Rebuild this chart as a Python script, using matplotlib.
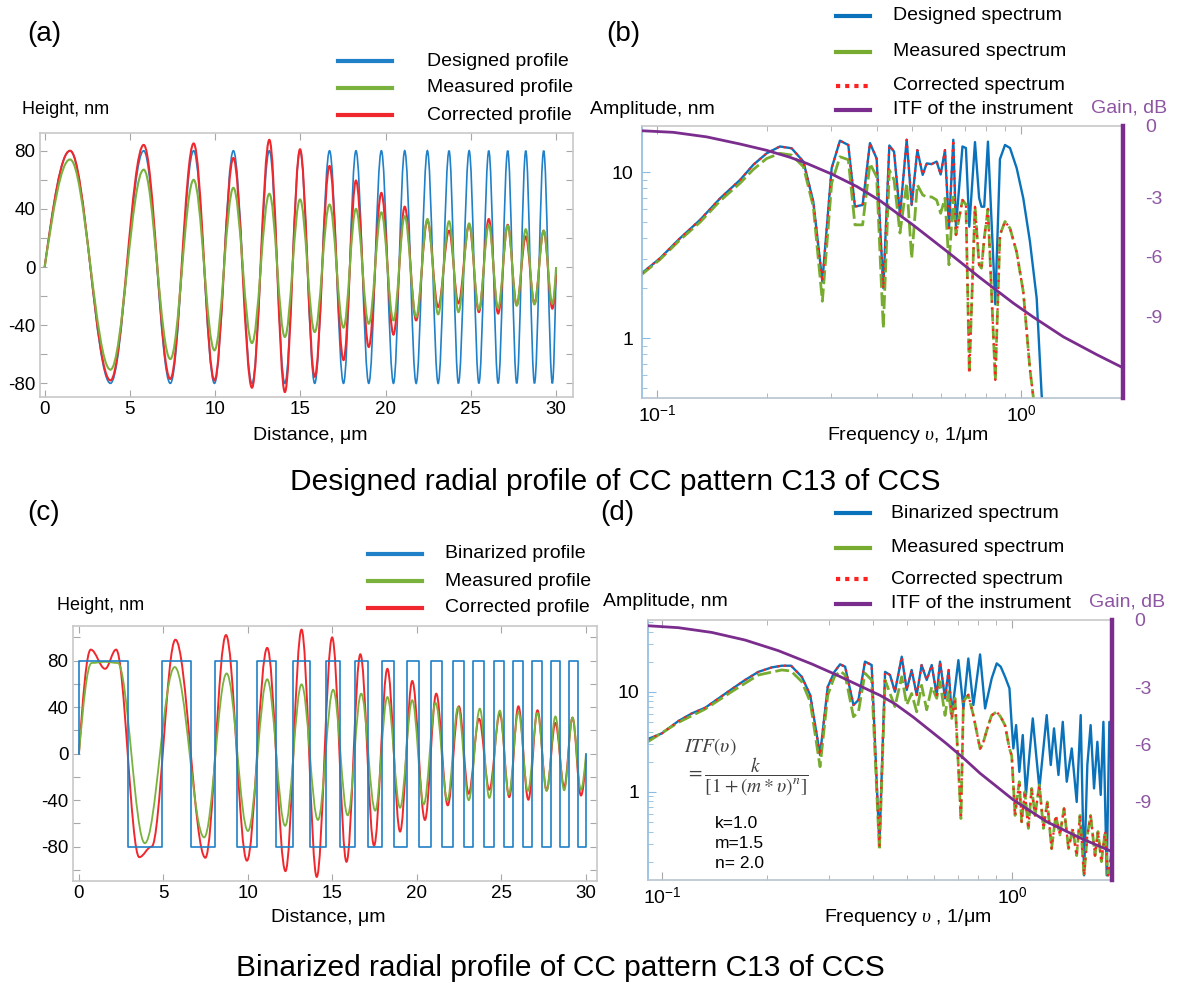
import matplotlib
matplotlib.use("Agg")
import matplotlib.pyplot as plt
from matplotlib.path import Path
from matplotlib.patches import PathPatch
from matplotlib.lines import Line2D
from matplotlib.ticker import LogLocator, NullFormatter, MultipleLocator, FixedLocator

plt.rcParams.update({
    "font.family": ["Liberation Sans", "DejaVu Sans"],
    "mathtext.fontset": "custom",
    "mathtext.rm": "Liberation Sans",
    "mathtext.it": "Liberation Serif:italic",
    "mathtext.bf": "Liberation Sans:bold",
    "axes.unicode_minus": False,
})

# ---------------- data: panel (a) designed / measured / corrected profile extrema ----------------
distance_a = [0, 1.49, 3.86, 5.81, 7.37, 8.74, 9.96, 11.07, 12.16, 13.18, 14.09, 14.98, 15.84,
              16.71, 17.53, 18.26, 19.01, 19.75, 20.46, 21.12, 21.79, 22.45, 23.08, 23.72, 24.27,
              24.9, 25.47, 26.05, 26.6, 27.16, 27.69, 28.22, 28.73, 29.27, 29.78, 30.0]
designed_a = [0, 80, -80, 80, -80, 80, -80, 80, -80, 80, -80, 80, -80, 80, -80, 80, -80, 80,
              -80, 80, -80, 80, -80, 80, -80, 80, -80, 80, -80, 80, -80, 80, -80, 80, -80, 0]
measured_a = [0, 74, -70.6, 67, -63.3, 60, -57.3, 54.5, -52.3, 50.4, -48.1, 46.5, -44.7, 43,
              -41.7, 40, -39, 37.6, -36.7, 35, -34.4, 33, -32.5, 31.5, -31, 30, -29.3, 29, -28.2,
              28.5, -26.6, 26, -25.7, 25, -25.2, 0]
corrected_a = [0, 80, -78, 84, -77, 85, -78, 75, -83, 87.5, -86, 81, -75.5, 69.5, -64, 59.5,
               -55, 51, -46.5, 41.5, -36.7, 32, -27.5, 25, -25, 29, -31, 33, -32, 29, -26, 21,
               -25, 25, -28.6, -5]

# ---------------- data: panel (c) binarized / measured / corrected profile ----------------
binarized_edges_c = [0, 2.89, 4.92, 6.62, 8.04, 9.33, 10.53, 11.66, 12.67, 13.67, 14.59, 15.47,
                     16.33, 17.12, 17.91, 18.66, 19.40, 20.10, 20.80, 21.48, 22.16, 22.77, 23.33,
                     23.97, 24.58, 25.14, 25.70, 26.27, 26.83, 27.40, 27.92, 28.48, 28.98, 29.55, 30.0]
binarized_levels_c = [80, -80] * 17

measured_x_c = [0, 0.75, 1.55, 2.3, 3.9, 5.67, 7.41, 8.74, 10.0, 11.14, 12.2, 13.17, 14.14, 15.04,
                15.9, 16.7, 17.53, 18.25, 19.0, 19.72, 20.4, 21.1, 21.8, 22.43, 23.06, 23.72,
                24.28, 24.9, 25.43, 26.0, 26.56, 27.13, 27.67, 28.19, 28.71, 29.2, 29.7, 30.0]
measured_c = [0, 78, 79, 78, -77, 74.5, -72, 69, -66.5, 64, -62, 59.6, -57, 55, -53, 51.6, -49,
              48.7, -46.5, 46, -43.6, 43.6, -40, 40, -40, 38.7, -38, 37, -35, 36, -32, 35, -32,
              32, -31.5, 31, -31, 0]
corrected_x_c = [0, 0.7, 1.55, 2.2, 3.57, 4.3, 5.71, 7.48, 8.7, 9.94, 11.14, 12.22, 13.17, 14.07,
                 14.98, 15.83, 16.65, 17.46, 18.25, 19.0, 19.72, 20.47, 21.14, 21.82, 22.48, 23.06,
                 23.67, 24.28, 24.9, 25.46, 26.0, 26.59, 27.13, 27.67, 28.19, 28.71, 29.2, 29.7, 30.0]
corrected_c = [0, 89.5, 73, 89.5, -89, -80, 98, -89.5, 102, -92, 91, -101, 106.7, -106, 100, -93,
               85.5, -79, 73, -67, 62.5, -57, 51.6, -44.4, 40.7, -34.4, 30, -31, 34.4, -37.3, 40.7,
               -39.6, 37.3, -31.5, 26.4, -28.7, 31, -36, -5]

# ---------------- data: panel (b) spectra (nm) and ITF gain (dB) ----------------
freq_b = [0.0905, 0.1016, 0.1153, 0.1309, 0.1486, 0.1687, 0.1834, 0.1995, 0.217, 0.2336,
          0.2517, 0.268, 0.2838, 0.301, 0.3172, 0.3344, 0.3487, 0.3661, 0.3835, 0.400,
          0.4173, 0.4335, 0.4466, 0.4637, 0.4838, 0.4993, 0.5175, 0.5353, 0.549, 0.5665,
          0.5848, 0.5997, 0.6164, 0.6322, 0.6497, 0.6607, 0.6885, 0.7037, 0.7189, 0.7452,
          0.765, 0.7765, 0.790, 0.8089, 0.8474, 0.8727, 0.901, 0.930, 0.970, 1.0116,
          1.055, 1.101, 1.136, 1.153]
designed_b = [2.46, 3.03, 4.0, 5.16, 6.96, 9.0, 11.1, 13.0, 14.3, 13.95,
              11.6, 6.65, 2.19, 10.6, 15.5, 14.6, 6.21, 6.35, 15.0, 12.1,
              2.0, 14.5, 13.3, 5.53, 15.7, 6.35, 13.6, 9.64, 11.3, 11.2,
              11.6, 9.7, 13.6, 4.6, 15.7, 4.7, 14.3, 14.0, 4.7, 15.2,
              7.0, 6.2, 6.2, 15.3, 1.6, 12.0, 14.6, 14.0, 10.6, 6.96,
              3.82, 1.74, 0.456, 0.30]
measured_b = [2.42, 2.98, 3.91, 5.0, 6.72, 8.6, 10.4, 12.1, 13.0, 12.7,
              10.8, 6.2, 1.67, 8.6, 12.4, 11.9, 4.82, 4.82, 11.3, 9.4,
              1.15, 10.3, 9.0, 4.3, 8.6, 3.03, 8.4, 7.3, 7.1, 7.1,
              6.8, 5.66, 6.97, 2.77, 7.1, 4.2, 6.8, 6.4, 0.615, 6.2,
              2.77, 2.64, 4.0, 6.0, 0.56, 4.2, 5.05, 4.6, 3.3, 1.9,
              0.65, 0.3, 0.2, 0.15]
corrected_b = [2.46, 3.03, 4.0, 5.16, 6.96, 9.0, 11.1, 13.0, 14.3, 13.95,
               11.6, 6.65, 2.19, 10.6, 15.5, 14.6, 6.21, 6.35, 15.0, 12.1,
               2.0, 14.5, 13.3, 5.53, 15.7, 6.35, 13.6, 9.64, 11.3, 11.2,
               11.6, 9.7, 13.6, 4.6, 15.7, 4.2, 6.8, 6.4, 0.615, 6.2,
               2.77, 2.64, 4.0, 6.0, 0.56, 4.2, 5.05, 4.6, 3.3, 1.9,
               0.65, 0.3, 0.2, 0.15]
itf_freq_b = [0.0905, 0.1105, 0.1365, 0.1685, 0.1995, 0.231, 0.257, 0.301, 0.353, 0.409,
              0.504, 0.623, 0.769, 0.95, 1.077, 1.303, 1.609, 1.897]
itf_gain_b = [0.37, 0.29, 0.06, -0.30, -0.62, -0.97, -1.28, -1.82, -2.45, -3.17,
              -4.40, -5.72, -7.06, -8.35, -9.05, -10.05, -10.95, -11.61]

# ---------------- data: panel (d) spectra (nm) and ITF gain (dB) ----------------
designed_freq_d = [0.091, 0.0998, 0.1113, 0.1216, 0.1328, 0.145, 0.158, 0.1726, 0.1884, 0.2057,
                   0.2198, 0.2336, 0.2507, 0.265, 0.2827, 0.2974, 0.3107, 0.3226, 0.3334, 0.3522,
                   0.364, 0.380, 0.397, 0.4178, 0.4337, 0.448, 0.4628, 0.4839, 0.5, 0.5165,
                   0.534, 0.5515, 0.5704, 0.5894, 0.6091, 0.6226, 0.6434, 0.6588, 0.6724, 0.7025,
                   0.7261, 0.750, 0.7753, 0.8102, 0.8374, 0.8747, 0.904, 0.928, 0.955, 0.983,
                   0.9977, 1.0086, 1.027, 1.049, 1.073, 1.096, 1.121, 1.146, 1.172, 1.197,
                   1.229, 1.256, 1.29, 1.318, 1.357, 1.396, 1.433, 1.481, 1.53, 1.571,
                   1.606, 1.641, 1.677, 1.715, 1.753, 1.792, 1.824, 1.864, 1.897, 1.935]
designed_d = [3.36, 3.83, 5.09, 6.07, 6.92, 8.58, 10.6, 13.1, 15.8, 17.5,
              18.2, 18.2, 14.1, 9.26, 2.33, 11.2, 15.8, 18.8, 17.8, 7.36,
              8.26, 20.0, 18.5, 0.29, 15.8, 14.7, 10.0, 22.4, 10.4, 16.5,
              9.26, 18.5, 13.1, 18.5, 9.26, 20.0, 8.58, 16.5, 5.84, 20.7,
              6.81, 21.5, 7.36, 23.6, 6.81, 13.6, 19.2, 17.8, 14.1, 10.8,
              4.64, 2.71, 4.64, 1.58, 3.69, 0.93, 2.33, 5.41, 2.33, 1.08,
              2.71, 5.84, 1.85, 4.3, 1.47, 5.0, 1.26, 2.71, 0.79, 5.84,
              0.146, 1.85, 4.64, 1.08, 3.16, 0.93, 5.0, 0.146, 5.0, 1.26]
measured_freq_d = [0.091, 0.1113, 0.1328, 0.158, 0.1884, 0.2198, 0.2336, 0.2507, 0.265, 0.2827,
                   0.2974, 0.3107, 0.3226, 0.3334, 0.3522, 0.364, 0.380, 0.397, 0.4178, 0.4337,
                   0.448, 0.4628, 0.4839, 0.5, 0.5165, 0.534, 0.5515, 0.5704, 0.5894, 0.6091,
                   0.6226, 0.6434, 0.6588, 0.6724, 0.687, 0.7144, 0.7261, 0.750, 0.7753, 0.8102,
                   0.825, 0.850, 0.874, 0.904, 0.928, 0.955, 0.983, 0.9977, 1.02, 1.03,
                   1.049, 1.065, 1.088, 1.113, 1.138, 1.163, 1.197, 1.229, 1.261, 1.297,
                   1.333, 1.37, 1.408, 1.45, 1.49, 1.53, 1.564, 1.606, 1.641, 1.677,
                   1.726, 1.76, 1.80, 1.845, 1.88, 1.935]
measured_d = [3.16, 4.93, 6.71, 10.0, 14.7, 16.5, 16.1, 12.6, 7.94, 1.78,
              9.26, 14.1, 16.1, 14.7, 5.62, 6.3, 15.3, 13.1, 0.26, 13.1,
              9.6, 7.1, 14.1, 7.4, 9.6, 6.3, 11.6, 6.6, 11.2, 8.6,
              12.6, 5.8, 10.0, 5.4, 8.6, 0.54, 8.0, 9.3, 5.8, 2.7,
              3.0, 4.3, 5.8, 6.3, 5.6, 4.6, 2.7, 2.3, 0.58, 0.79,
              1.26, 0.5, 1.0, 0.43, 1.08, 0.58, 1.17, 0.43, 0.79, 0.27,
              0.58, 0.37, 0.68, 0.27, 0.43, 0.23, 0.58, 0.146, 0.37, 0.58,
              0.23, 0.40, 0.2, 0.40, 0.146, 0.27]
corrected_freq_d = [0.091, 0.0998, 0.1113, 0.1216, 0.1328, 0.145, 0.158, 0.1726, 0.1884, 0.2057,
                    0.2198, 0.2336, 0.2507, 0.265, 0.2827, 0.2974, 0.3107, 0.3226, 0.3334, 0.3522,
                    0.364, 0.380, 0.397, 0.4178, 0.4337, 0.448, 0.4628, 0.4839, 0.5, 0.5165,
                    0.534, 0.5515, 0.5704, 0.5894, 0.6091, 0.6226, 0.6434, 0.6588,
                    0.6724, 0.687, 0.7144, 0.7261, 0.750, 0.7753, 0.8102,
                    0.825, 0.850, 0.874, 0.904, 0.928, 0.955, 0.983, 0.9977, 1.02, 1.03,
                    1.049, 1.065, 1.088, 1.113, 1.138, 1.163, 1.197, 1.229, 1.261, 1.297,
                    1.333, 1.37, 1.408, 1.45, 1.49, 1.53, 1.564, 1.606, 1.641, 1.677,
                    1.726, 1.76, 1.80, 1.845, 1.88, 1.935]
corrected_d = [3.36, 3.83, 5.09, 6.07, 6.92, 8.58, 10.6, 13.1, 15.8, 17.5,
               18.2, 18.2, 14.1, 9.26, 2.33, 11.2, 15.8, 18.8, 17.8, 7.36,
               8.26, 20.0, 18.5, 0.29, 15.8, 14.7, 10.0, 22.4, 10.4, 16.5,
               9.26, 18.5, 13.1, 18.5, 9.26, 20.0, 8.58, 16.5,
               5.4, 8.6, 0.54, 8.0, 9.3, 5.8, 2.7,
               3.0, 4.3, 5.8, 6.3, 5.6, 4.6, 2.7, 2.3, 0.58, 0.79,
               1.26, 0.5, 1.0, 0.43, 1.08, 0.58, 1.17, 0.43, 0.79, 0.27,
               0.58, 0.37, 0.68, 0.27, 0.43, 0.23, 0.58, 0.146, 0.37, 0.58,
               0.23, 0.40, 0.2, 0.40, 0.146, 0.27]
itf_freq_d = [0.0914, 0.1113, 0.1387, 0.1726, 0.2149, 0.2678, 0.3155, 0.372, 0.4196, 0.463,
              0.5224, 0.6506, 0.726, 0.810, 1.0086, 1.256, 1.564, 1.934]
itf_gain_d = [0.26, 0.16, -0.09, -0.49, -1.05, -1.75, -2.33, -2.95, -3.4, -3.85,
              -4.55, -5.95, -6.7, -7.5, -8.9, -10.05, -10.9, -11.63]

itf_params = ["k=1.0", "m=1.5", "n= 2.0"]

# ---------------- styling ----------------
W, H = 1184, 985
fig = plt.figure(figsize=(W / 100, H / 100), dpi=100)

C_BLUE_P, C_GREEN_P, C_RED_P = "#2080C8", "#7AB23E", "#F0282D"
C_BLUE, C_GREEN, C_RED, C_PURPLE = "#0A72BA", "#77AC30", "#FF2020", "#7B2D8E"
C_GAIN = "#8E55A2"


def add_ax(x0, y0, x1, y1):
    return fig.add_axes([x0 / W, 1 - y1 / H, (x1 - x0) / W, (y1 - y0) / H])


def ftext(x, y, s, **kw):
    kw.setdefault("va", "center")
    return fig.text(x / W, 1 - y / H, s, **kw)


def fline(x0, x1, y, **kw):
    fig.add_artist(Line2D([x0 / W, x1 / W], [1 - y / H, 1 - y / H],
                          transform=fig.transFigure, **kw))


def wave_path(xs, ys):
    """Smooth curve through successive extrema (horizontal tangents), drawn as Bezier segments."""
    verts = [(xs[0], ys[0])]
    codes = [Path.MOVETO]
    n = len(xs)
    for i in range(n - 1):
        x0, y0, x1, y1 = xs[i], ys[i], xs[i + 1], ys[i + 1]
        L = x1 - x0
        if i == 0:
            c1 = (x0 + L / 3, y0 + (y1 - y0) * 0.52)
        else:
            c1 = (x0 + 0.36 * L, y0)
        if i == n - 2:
            c2 = (x1 - L / 3, y1 - (y1 - y0) * 0.52)
        else:
            c2 = (x1 - 0.36 * L, y1)
        verts += [c1, c2, (x1, y1)]
        codes += [Path.CURVE4] * 3
    return Path(verts, codes)


def style_profile(ax, ylim, xlim):
    for s in ax.spines.values():
        s.set_color("#C8C8C8")
        s.set_linewidth(1.2)
    ax.set_xlim(*xlim)
    ax.set_ylim(*ylim)
    ax.set_xticks(range(0, 31, 5))
    ax.set_yticks([-80, -40, 0, 40, 80])
    ax.yaxis.set_minor_locator(MultipleLocator(20))
    ax.tick_params(which="both", direction="in", length=5, width=0.8, color="#A8A8A8",
                   top=True, right=True, labelsize=13.5, pad=3)


def style_spectrum(ax, axr, xlim, ylim, glim):
    ax.set_xscale("log")
    ax.set_yscale("log")
    ax.set_xlim(*xlim)
    ax.set_ylim(*ylim)
    ax.xaxis.set_major_locator(FixedLocator([0.1, 1.0]))
    ax.set_xticklabels([r"$10^{-1}$", r"$10^{0}$"])
    ax.xaxis.set_minor_locator(LogLocator(subs=range(2, 10)))
    ax.xaxis.set_minor_formatter(NullFormatter())
    ax.yaxis.set_major_locator(FixedLocator([1, 10]))
    ax.set_yticklabels(["1", "10"])
    ax.yaxis.set_minor_locator(LogLocator(subs=range(2, 10)))
    ax.yaxis.set_minor_formatter(NullFormatter())
    ax.spines["top"].set_color("#C8C8C8")
    ax.spines["bottom"].set_color("#B8C4D0")
    ax.spines["left"].set_color("#8CBBE0")
    ax.spines["right"].set_visible(False)
    for s in ("top", "bottom", "left"):
        ax.spines[s].set_linewidth(1.2)
    ax.tick_params(axis="x", which="both", direction="in", top=True, color="#A8A8A8",
                   labelsize=14, pad=5)
    ax.tick_params(axis="y", which="both", direction="in", color="#8CBBE0", labelsize=14, pad=6)
    ax.tick_params(which="major", length=6)
    ax.tick_params(which="minor", length=3.5)
    axr.set_ylim(*glim)
    for s in ("top", "bottom", "left"):
        axr.spines[s].set_visible(False)
    axr.spines["right"].set_color(C_PURPLE)
    axr.spines["right"].set_linewidth(3.2)
    axr.set_yticks([glim[1], -3, -6, -9])
    axr.set_yticklabels(["0", "-3", "-6", "-9"])
    axr.tick_params(axis="y", length=0, labelcolor=C_GAIN, labelsize=14, pad=16)


# ---------------- panel (a) ----------------
ax_a = add_ax(39.7, 133, 573, 397.3)
ax_a.add_patch(PathPatch(wave_path(distance_a, designed_a), fill=False, edgecolor=C_BLUE_P, lw=1.2))
ax_a.add_patch(PathPatch(wave_path(distance_a, corrected_a), fill=False, edgecolor=C_RED_P, lw=1.5))
ax_a.add_patch(PathPatch(wave_path(distance_a, measured_a), fill=False, edgecolor=C_GREEN_P, lw=1.5))
style_profile(ax_a, (-89.6, 92.2), (-0.29, 30.99))

ftext(27, 34, "(a)", fontsize=20)
for y, c, s in [(61, C_BLUE_P, "Designed profile"), (88, C_GREEN_P, "Measured profile"),
                (115, C_RED_P, "Corrected profile")]:
    fline(338, 392, y, color=c, lw=3)
    ftext(427, y, s, fontsize=14)
ftext(22, 110, "Height, nm", fontsize=13)
ftext(310, 435, "Distance, μm", fontsize=14, ha="center")

# ---------------- panel (b) ----------------
ax_b = add_ax(641.5, 126, 1122.7, 397.7)
ax_br = ax_b.twinx()
ax_b.plot(freq_b, designed_b, color=C_BLUE, lw=1.7)
ax_b.plot(freq_b, measured_b, color=C_GREEN, lw=2.0, dashes=(5, 1.6))
ax_b.plot(freq_b, corrected_b, color=C_RED, lw=1.6, dashes=(1, 2.2))
ax_br.plot(itf_freq_b, itf_gain_b, color=C_PURPLE, lw=2.0)
style_spectrum(ax_b, ax_br, (0.0904, 1.897), (0.438, 19.0), (-13.13, 0.61))

ftext(606, 34, "(b)", fontsize=20)
legend_b = [(15.7, "Designed spectrum", dict(color=C_BLUE, lw=3)),
            (51.7, "Measured spectrum", dict(color=C_GREEN, lw=3)),
            (86, "Corrected spectrum", dict(color=C_RED, lw=3, dashes=(1, 1.2))),
            (110, "ITF of the instrument", dict(color=C_PURPLE, lw=3))]
for y, s, kw in legend_b:
    fline(836, 870, y, **kw)
    ftext(892.6, y, s, fontsize=14)
ftext(590, 110, "Amplitude, nm", fontsize=14)
ftext(1091, 108, "Gain, dB", fontsize=14, color=C_GAIN)
ftext(908, 435, r"Frequency $\upsilon$, 1/μm", fontsize=14, ha="center")

ftext(615, 482, "Designed radial profile of CC pattern C13 of CCS", fontsize=21.5, ha="center")

# ---------------- panel (c) ----------------
ax_c = add_ax(72.5, 626, 597, 881)
ax_c.step([0] + binarized_edges_c, [0] + binarized_levels_c + [0], where="post",
          color=C_BLUE_P, lw=1.2)
ax_c.add_patch(PathPatch(wave_path(corrected_x_c, corrected_c), fill=False, edgecolor=C_RED_P, lw=1.4))
ax_c.add_patch(PathPatch(wave_path(measured_x_c, measured_c), fill=False, edgecolor=C_GREEN_P, lw=1.3))
style_profile(ax_c, (-109.5, 109.8), (-0.38, 30.65))

ftext(27, 513, "(c)", fontsize=20)
for y, c, s in [(554, C_BLUE_P, "Binarized profile"), (581, C_GREEN_P, "Measured profile"),
                (608, C_RED_P, "Corrected profile")]:
    fline(368, 422, y, color=c, lw=3)
    ftext(445, y, s, fontsize=14)
ftext(57, 605, "Height, nm", fontsize=13)
ftext(328, 918, "Distance, μm", fontsize=14, ha="center")

# ---------------- panel (d) ----------------
ax_d = add_ax(647.6, 619.7, 1112.3, 879.7)
ax_dr = ax_d.twinx()
ax_d.plot(designed_freq_d, designed_d, color=C_BLUE, lw=1.7)
ax_d.plot(measured_freq_d, measured_d, color=C_GREEN, lw=2.0, dashes=(5, 1.6))
ax_d.plot(corrected_freq_d, corrected_d, color=C_RED, lw=1.6, dashes=(1, 2.2))
ax_dr.plot(itf_freq_d, itf_gain_d, color=C_PURPLE, lw=2.0)
style_spectrum(ax_d, ax_dr, (0.0909, 1.934), (0.132, 52.5), (-13.1, 0.58))

ftext(600, 513, "(d)", fontsize=20)
legend_d = [(513, "Binarized spectrum", dict(color=C_BLUE, lw=3)),
            (548, "Measured spectrum", dict(color=C_GREEN, lw=3)),
            (579, "Corrected spectrum", dict(color=C_RED, lw=3, dashes=(1, 1.2))),
            (604, "ITF of the instrument", dict(color=C_PURPLE, lw=3))]
for y, s, kw in legend_d:
    fline(836, 870, y, **kw)
    ftext(890.7, y, s, fontsize=14)
ftext(603, 602, "Amplitude, nm", fontsize=14)
ftext(1089, 602, "Gain, dB", fontsize=14, color=C_GAIN)
ftext(908, 918, r"Frequency $\upsilon$ , 1/μm", fontsize=14, ha="center")

ftext(684, 747, r"$ITF(\upsilon)$", fontsize=14, color="#404040", math_fontfamily="stix")
ftext(686, 777, r"$=\dfrac{k}{[1+(m*\upsilon)^{n}]}$", fontsize=14, color="#404040",
      math_fontfamily="stix")
for i, s in enumerate(itf_params):
    ftext(715, 823 + 20 * i, s, fontsize=12.5)

ftext(560, 968, "Binarized radial profile of CC pattern C13 of CCS", fontsize=21.5, ha="center")

fig.savefig("out.png", dpi=100)
